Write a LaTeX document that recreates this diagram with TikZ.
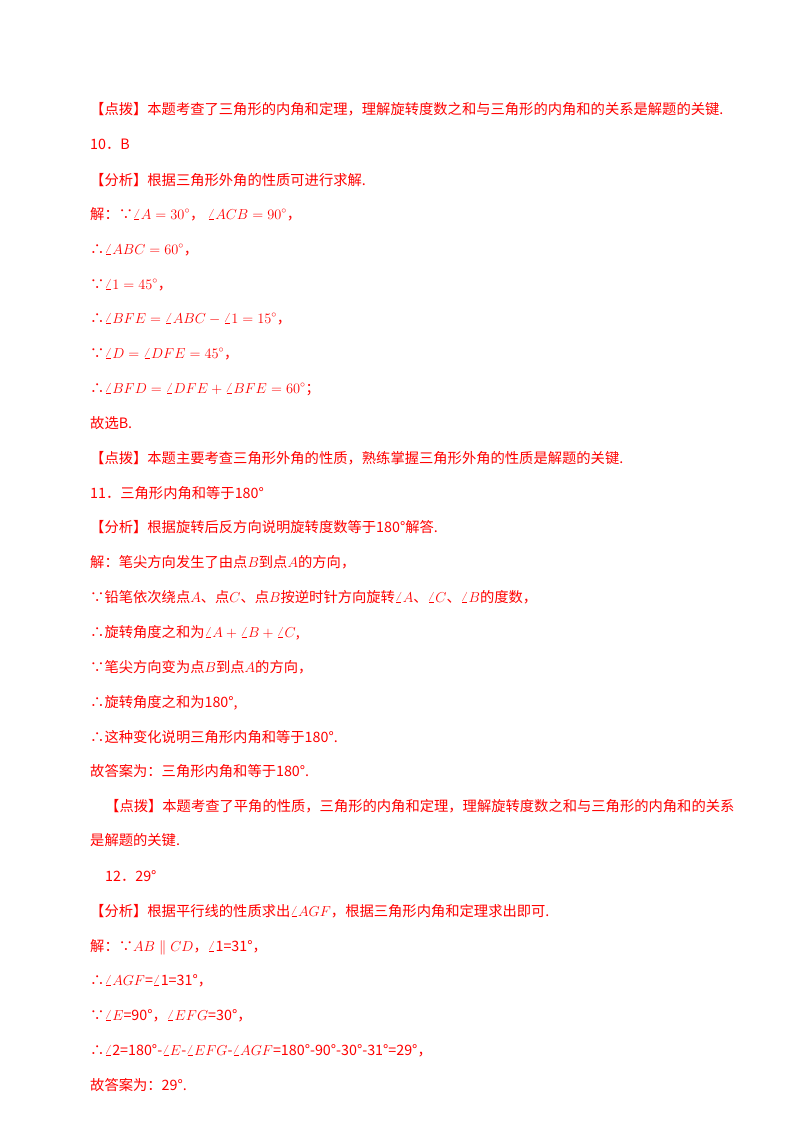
\documentclass[tikz,border=0pt]{standalone}
\usepackage{fontspec}
\setmainfont{Noto Sans CJK SC}
\newfontfamily\cjk{Noto Sans CJK SC}
\begin{document}
\begin{tikzpicture}[x=1pt,y=-1pt]
\tikzset{ln/.style={anchor=base west,inner sep=0pt,text=red,font=\fontsize{14.3}{17}\selectfont},
 bk/.style={ln,text=black}}
\useasboundingbox[fill=white] (0,0) rectangle (800,1132);
\node[ln] (l1) at (90,114) {【点拨】本题考查了三角形的内角和定理，理解旋转度数之和与三角形的内角和的关系是解题的关键.};
\node[ln] (l2) at (90,149) {10．B};
\node[ln] (l3) at (90,185) {【分析】根据三角形外角的性质可进行求解.};
\node[ln] (l4) at (90,219) {解：∵$\angle A=30^\circ$，\ $\angle ACB=90^\circ$，};
\node[ln] (l5) at (90,254) {∴$\angle ABC=60^\circ$，};
\node[ln] (l6) at (90,289) {∵$\angle 1=45^\circ$，};
\node[ln] (l7) at (90,323) {∴$\angle BFE=\angle ABC-\angle 1=15^\circ$，};
\node[ln] (l8) at (90,358) {∵$\angle D=\angle DFE=45^\circ$，};
\node[ln] (l9) at (90,393) {∴$\angle BFD=\angle DFE+\angle BFE=60^\circ$；};
\node[ln] (l10) at (90,428) {故选B.};
\node[ln] (l11) at (90,463) {【点拨】本题主要考查三角形外角的性质，熟练掌握三角形外角的性质是解题的关键.};
\node[ln] (l12) at (90,498) {11．三角形内角和等于180°};
\node[ln] (l13) at (90,532) {【分析】根据旋转后反方向说明旋转度数等于180°解答.};
\node[ln] (l14) at (90,567) {解：笔尖方向发生了由点$B$到点$A$的方向，};
\node[ln] (l15) at (90,602) {∵铅笔依次绕点$A$、点$C$、点$B$按逆时针方向旋转$\angle A$、$\angle C$、$\angle B$的度数，};
\node[ln] (l16) at (90,637) {∴旋转角度之和为$\angle A+\angle B+\angle C$,};
\node[ln] (l17) at (90,672) {∵笔尖方向变为点$B$到点$A$的方向，};
\node[ln] (l18) at (90,707) {∴旋转角度之和为180°,};
\node[ln] (l19) at (90,742) {∴这种变化说明三角形内角和等于180°.};
\node[ln] (l20) at (90,776) {故答案为：三角形内角和等于180°.};
\node[ln] (l21) at (105,811) {【点拨】本题考查了平角的性质，三角形的内角和定理，理解旋转度数之和与三角形的内角和的关系};
\node[ln] (l22) at (90,845) {是解题的关键.};
\node[ln] (l23) at (105,881) {12．29°};
\node[ln] (l24) at (90,916) {【分析】根据平行线的性质求出$\angle AGF$，根据三角形内角和定理求出即可.};
\node[ln] (l25) at (90,951) {解：∵$AB\parallel CD$，$\angle$1=31°，};
\node[ln] (l26) at (90,985) {∴$\angle AGF$=$\angle$1=31°，};
\node[ln] (l27) at (90,1020) {∵$\angle E$=90°，$\angle EFG$=30°，};
\node[ln] (l28) at (90,1055) {∴$\angle$2=180°-$\angle E$-$\angle EFG$-$\angle AGF$=180°-90°-30°-31°=29°，};
\node[ln] (l29) at (90,1090) {故答案为：29°.};
\end{tikzpicture}
\end{document}
